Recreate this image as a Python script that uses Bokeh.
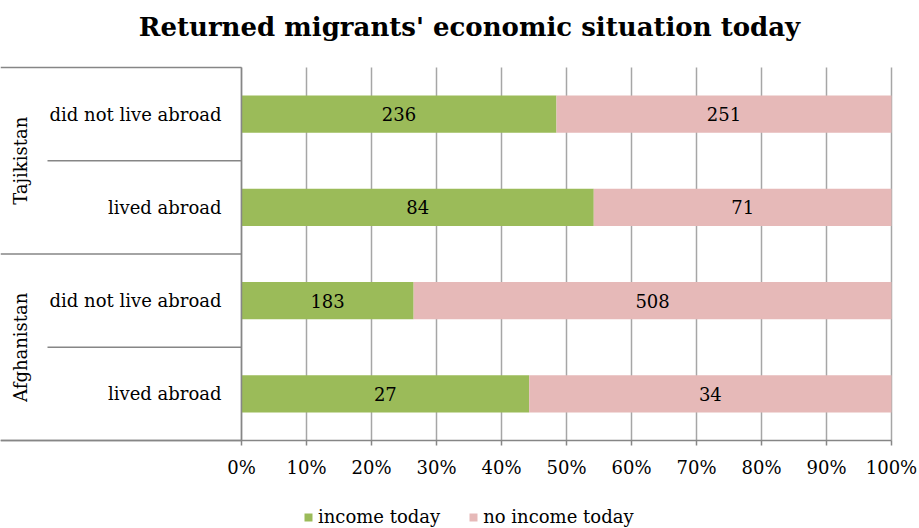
import numpy as np
from bokeh.plotting import figure
from bokeh.models import (ColumnDataSource, FixedTicker, NumeralTickFormatter, Range1d,
                          Legend, LegendItem, Label)
from bokeh.core.properties import value
from bokeh.embed import file_html
from bokeh.resources import INLINE

# ---------------- data ----------------
title_text = "Returned migrants' economic situation today"
groups = ["Tajikistan", "Afghanistan"]
subcats = ["did not live abroad", "lived abroad"]
row_group = ["Tajikistan", "Tajikistan", "Afghanistan", "Afghanistan"]
row_label = ["did not live abroad", "lived abroad", "did not live abroad", "lived abroad"]
income_today = [236, 84, 183, 27]
no_income_today = [251, 71, 508, 34]
series_names = ["income today", "no income today"]
tick_values = [0.0, 0.1, 0.2, 0.3, 0.4, 0.5, 0.6, 0.7, 0.8, 0.9, 1.0]

# ---------------- styles ----------------
GREEN = "#9BBB59"
PINK = "#E6B9B8"
AXIS_C = "#868686"
GRID_C = "#A6A6A6"
FONT = "DejaVu Serif"
FS = "18px"

# layout (pixels of the picture)
W, H = 919, 528
X0_PX, X1_PX = 241, 891      # 0% and 100%
TOP_PX, BOT_PX = 67, 440     # top / bottom of the bar area
n = len(row_label)
unit = (X1_PX - X0_PX)
row_px = (BOT_PX - TOP_PX) / n
x_start = -X0_PX / unit
x_end = 1.0 + (W - X1_PX) / unit
y_lo = -(H - BOT_PX) / row_px
y_hi = n + TOP_PX / row_px


def px_x(px):
    return (px - X0_PX) / unit


def px_y(py):
    return (BOT_PX - py) / row_px


inc = np.array(income_today, dtype=float)
noi = np.array(no_income_today, dtype=float)
tot = inc + noi
inc_f = inc / tot
noi_f = noi / tot
ys = [n - 0.5 - i for i in range(n)]

src = ColumnDataSource(dict(
    y=ys, inc=inc_f, noi=noi_f,
    inc_mid=inc_f / 2, noi_mid=inc_f + noi_f / 2,
    inc_txt=[str(v) for v in income_today],
    noi_txt=[str(v) for v in no_income_today],
    lab=row_label,
))

p = figure(width=W, height=H, output_backend="svg", toolbar_location=None,
           x_range=Range1d(x_start, x_end), y_range=Range1d(y_lo, y_hi),
           y_axis_location=None, min_border_left=0, min_border_right=0,
           min_border_top=0, min_border_bottom=0)
p.title.visible = False
p.outline_line_color = None
p.background_fill_color = "white"
p.border_fill_color = "white"
p.xgrid.visible = False
p.ygrid.visible = False

# x axis, drawn at the bottom of the bar area
ticker = FixedTicker(ticks=tick_values)
ax = p.xaxis[0]
ax.fixed_location = 0
ax.bounds = (x_start, 1.0)
ax.ticker = ticker
ax.formatter = NumeralTickFormatter(format="0%")
ax.axis_line_color = AXIS_C
ax.axis_line_width = 1.5
ax.major_tick_line_color = AXIS_C
ax.major_tick_line_width = 1.5
ax.major_tick_out = 5
ax.major_tick_in = 0
ax.minor_tick_line_color = None
ax.major_label_text_font = FONT
ax.major_label_text_font_size = FS
ax.major_label_text_color = "black"
ax.major_label_standoff = 11

# vertical grid lines over the bar area
p.segment(x0=tick_values, y0=[0] * len(tick_values), x1=tick_values, y1=[n] * len(tick_values),
          line_color=GRID_C, line_width=1.5)

# bars
rs = p.hbar_stack(["inc", "noi"], y="y", height=0.4, color=[GREEN, PINK],
                  line_color=None, source=src)

# value labels
p.text(x="inc_mid", y="y", text="inc_txt", source=src, text_align="center",
       text_baseline="middle", text_font=value(FONT), text_font_size=FS, text_color="black")
p.text(x="noi_mid", y="y", text="noi_txt", source=src, text_align="center",
       text_baseline="middle", text_font=value(FONT), text_font_size=FS, text_color="black")

# vertical axis line at 0%
p.segment(x0=[0], y0=[0], x1=[0], y1=[n], line_color=AXIS_C, line_width=1.5)

# separator lines in the category area
sub_left = px_x(47)
sep_x0, sep_y = [], []
for gi in range(len(groups) + 1):
    sep_x0.append(x_start)
    sep_y.append(n - gi * len(subcats))
for gi in range(len(groups)):
    for si in range(1, len(subcats)):
        sep_x0.append(sub_left)
        sep_y.append(n - gi * len(subcats) - si)
p.segment(x0=sep_x0, y0=sep_y, x1=[0] * len(sep_y), y1=sep_y, line_color=AXIS_C, line_width=1.5)

# category labels
p.text(x=0, y="y", text="lab", source=src, x_offset=-20, text_align="right",
       text_baseline="middle", text_font=value(FONT), text_font_size=FS, text_color="black")
g_y = [n - (gi + 0.5) * len(subcats) for gi in range(len(groups))]
p.text(x=[x_start] * len(groups), y=g_y, text=groups, x_offset=20, angle=np.pi / 2,
       text_align="center", text_baseline="middle", text_font=value(FONT),
       text_font_size=FS, text_color="black")

# title
p.add_layout(Label(x=px_x(469), y=px_y(26), text=title_text, text_align="center",
                   text_baseline="alphabetic", text_font=FONT, text_font_size="26px",
                   text_font_style="bold", text_color="black"))

# legend
legend = Legend(items=[LegendItem(label=series_names[0], renderers=[rs[0]]),
                       LegendItem(label=series_names[1], renderers=[rs[1]])],
                location=(303, 1), orientation="horizontal",
                glyph_width=10, glyph_height=10, label_standoff=5, spacing=28,
                padding=0, margin=0,
                label_text_font=FONT, label_text_font_size=FS, label_text_color="black",
                border_line_color=None, background_fill_alpha=0)
p.add_layout(legend)

open("out.html", "w").write(file_html(p, INLINE))
